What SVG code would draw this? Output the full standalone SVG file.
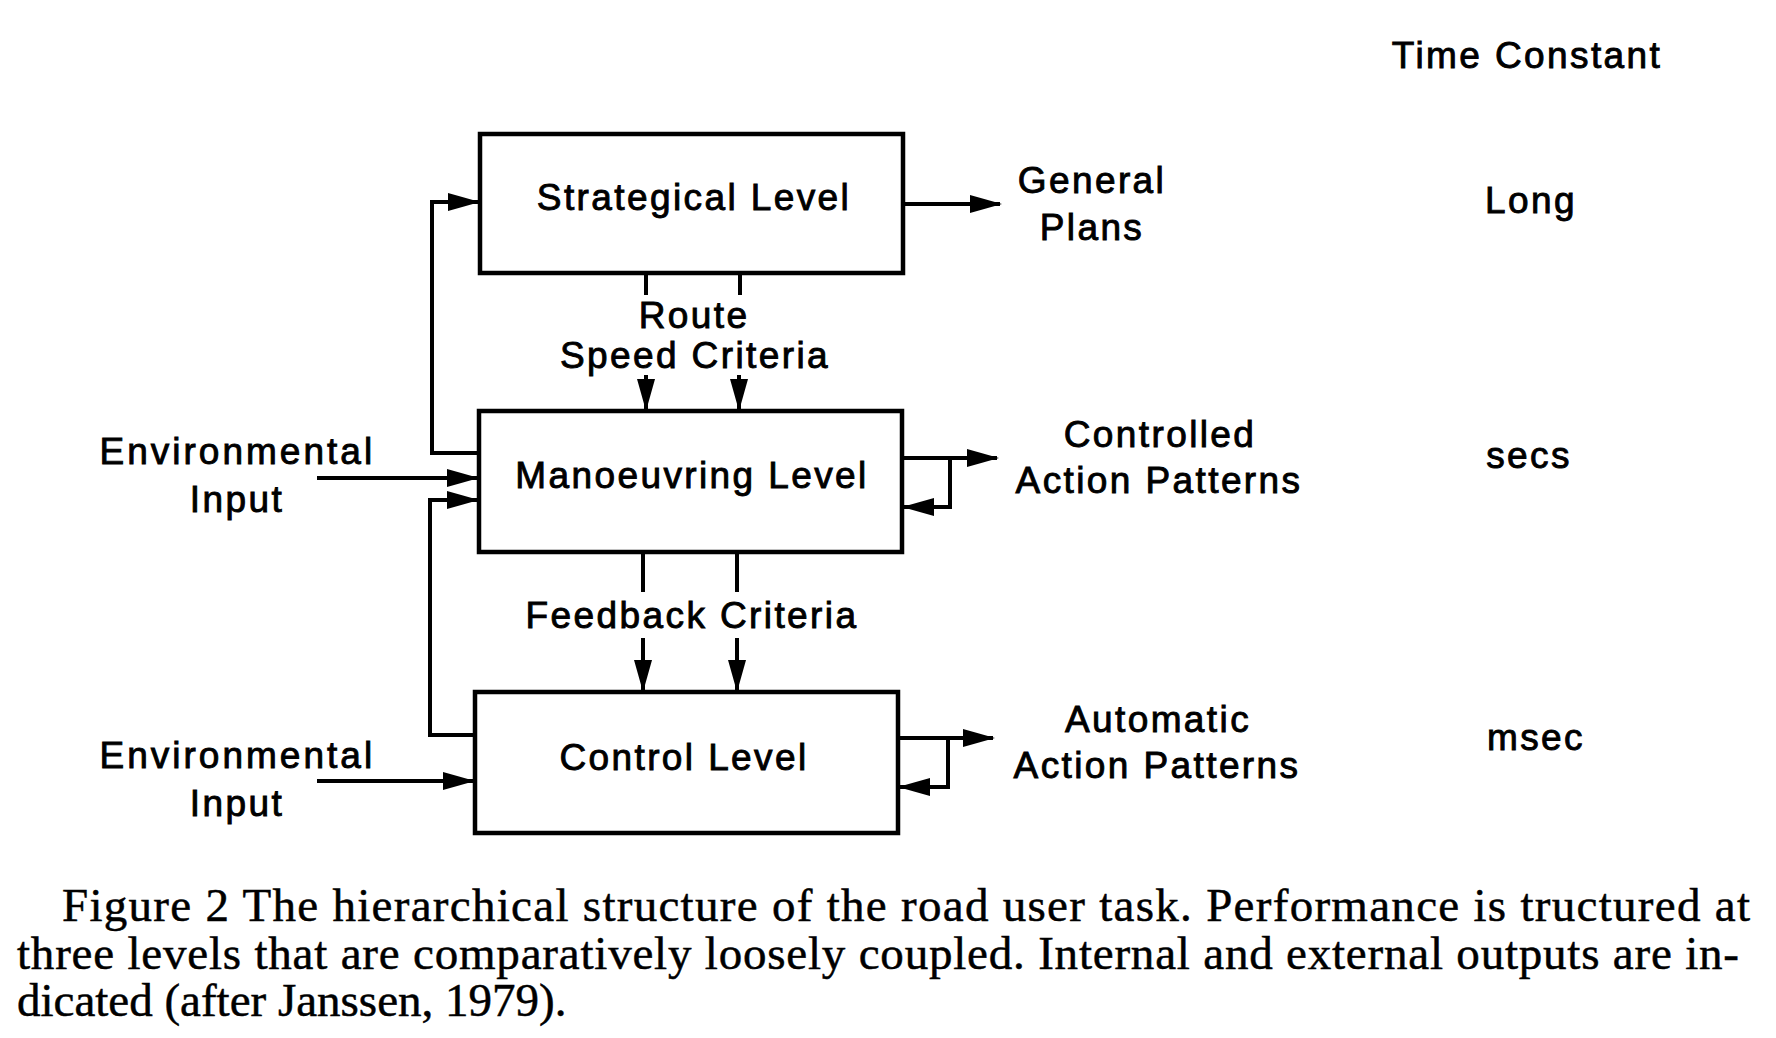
<svg xmlns="http://www.w3.org/2000/svg" width="1776" height="1038" viewBox="0 0 1776 1038">
<style>
  .box { fill: #fff; stroke: #000; stroke-width: 4.5; }
  .lbl { font-family: "Liberation Sans", Arial, sans-serif; font-size: 37px; letter-spacing: 2.4px; fill: #000; stroke: #000; stroke-width: 0.9px; text-anchor: middle; }
  .cap { font-family: "Liberation Serif", "Times New Roman", serif; font-size: 47px; fill: #000; stroke: #000; stroke-width: 0.5px; }
  .ln { fill: none; stroke: #000; stroke-width: 4; stroke-linejoin: miter; }
  .ar { fill: none; stroke: #000; stroke-width: 4; marker-end: url(#ah); }
</style>
<defs>
  <marker id="ah" markerUnits="userSpaceOnUse" markerWidth="32" markerHeight="18" refX="30" refY="9" orient="auto">
    <path d="M0,0 L32,9 L0,18 z" fill="#000"/>
  </marker>
</defs>
<rect width="1776" height="1038" fill="#fff"/>

<g id="connectors">
  <path class="ar" d="M479,453 H432 V202 H478"/>
  <path class="ar" d="M475,735 H430 V500 H477"/>
  <path class="ar" d="M317,478 H477"/>
  <path class="ar" d="M317,781 H473"/>
  <path class="ln" d="M646,273 V295"/>
  <path class="ln" d="M740,273 V295"/>
  <path class="ar" d="M646,375 V409"/>
  <path class="ar" d="M739,375 V409"/>
  <path class="ln" d="M643,552 V592"/>
  <path class="ln" d="M737,552 V592"/>
  <path class="ar" d="M643,638 V690"/>
  <path class="ar" d="M737,638 V690"/>
  <path class="ar" d="M903,204 H1000"/>
  <path class="ar" d="M902,458 H997"/>
  <path class="ar" d="M950,458 V507 H904"/>
  <path class="ar" d="M898,738 H993"/>
  <path class="ar" d="M948,738 V787 H900"/>
</g>

<g id="strategical">
  <rect class="box" x="480" y="134" width="423" height="139"/>
  <text class="lbl" x="694" y="210">Strategical Level</text>
</g>
<g id="manoeuvring">
  <rect class="box" x="479" y="411" width="423" height="141"/>
  <text class="lbl" x="692" y="488">Manoeuvring Level</text>
</g>
<g id="control">
  <rect class="box" x="475" y="692" width="423" height="141"/>
  <text class="lbl" x="684" y="770">Control Level</text>
</g>

<g id="labels">
  <text class="lbl" x="694" y="328">Route</text>
  <text class="lbl" x="695" y="368">Speed Criteria</text>
  <text class="lbl" x="692" y="628">Feedback Criteria</text>
  <text class="lbl" x="237" y="464" textLength="275" lengthAdjust="spacing">Environmental</text>
  <text class="lbl" x="237" y="512">Input</text>
  <text class="lbl" x="237" y="768" textLength="275" lengthAdjust="spacing">Environmental</text>
  <text class="lbl" x="237" y="816">Input</text>
  <text class="lbl" x="1092" y="193">General</text>
  <text class="lbl" x="1092" y="240">Plans</text>
  <text class="lbl" x="1160" y="447">Controlled</text>
  <text class="lbl" x="1159" y="493">Action Patterns</text>
  <text class="lbl" x="1158" y="732">Automatic</text>
  <text class="lbl" x="1157" y="778">Action Patterns</text>
  <text class="lbl" x="1527" y="68">Time Constant</text>
  <text class="lbl" x="1531" y="213">Long</text>
  <text class="lbl" x="1529" y="468">secs</text>
  <text class="lbl" x="1536" y="750">msec</text>
</g>

<g id="caption">
  <text class="cap" x="62" y="921" textLength="1688" lengthAdjust="spacing">Figure 2 The hierarchical structure of the road user task. Performance is tructured at</text>
  <text class="cap" x="17" y="969" textLength="1722" lengthAdjust="spacing">three levels that are comparatively loosely coupled. Internal and external outputs are in-</text>
  <text class="cap" x="17" y="1016">dicated (after Janssen, 1979).</text>
</g>
</svg>
